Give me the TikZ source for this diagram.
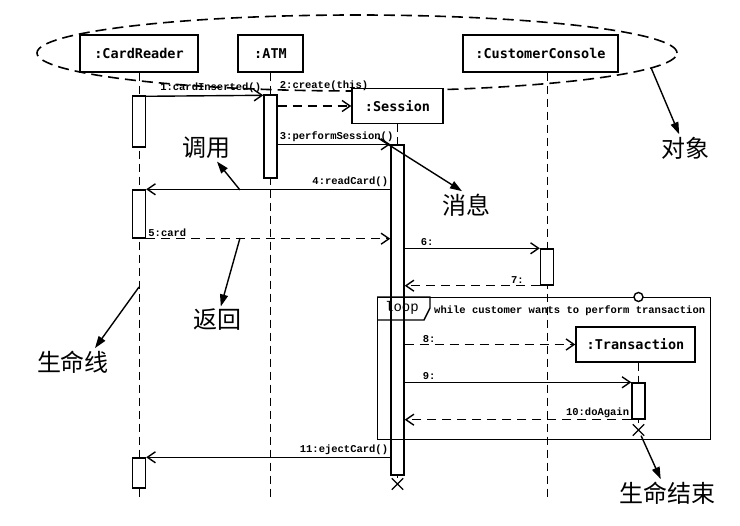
\documentclass[tikz,border=0pt]{standalone}
\usepackage{fontspec}
\setmonofont{DejaVu Sans Mono}
\newfontfamily\msgfont{Liberation Mono}
\newfontfamily\cjkfont{Noto Sans CJK SC}
\usepackage{tikz}
\usetikzlibrary{arrows.meta,positioning,shapes.geometric,shapes.misc,backgrounds,calc}
\tikzset{
  obj/.style={rectangle, draw=black, fill=white, minimum height=37pt, inner sep=0pt,
              font=\ttfamily\bfseries\fontsize{13.5}{15}\selectfont},
  actbar/.style={rectangle, draw=black, fill=white, minimum width=13pt, inner sep=0pt},
  lifeln/.style={dash pattern=on 8pt off 5pt},
  objring/.style={ellipse, draw=black, line width=1.6pt, dash pattern=on 11pt off 6pt,
                  minimum width=640pt, minimum height=76pt, inner sep=0pt},
  call/.style={-{Straight Barb[length=8pt,width=11pt]}},
  ret/.style={call, dash pattern=on 9pt off 6pt},
  lbl/.style={font=\msgfont\bfseries\fontsize{10.5}{12}\selectfont, inner sep=1.5pt},
  note/.style={font=\cjkfont\fontsize{24}{26}\selectfont, inner sep=2pt},
  notearr/.style={-{Triangle[length=12pt,width=8pt]}},
  endx/.style={cross out, draw=black, minimum size=10pt, inner sep=0pt},
}

\begin{document}
\begin{tikzpicture}[x=1pt, y=-1pt, line width=1.4pt]
\useasboundingbox (0,0) rectangle (740,526);

% Objects
\node[obj, minimum width=118pt] (cr) at (139,53.5) {:CardReader};
\node[obj, minimum width=65pt] (atm) at (270.5,53.5) {:ATM};
\node[obj, minimum width=155pt] (cc) at (540.5,53.5) {:CustomerConsole};
\node[obj, minimum width=91pt, minimum height=35pt] (ses) at (397.5,106) {:Session};
\node[obj, minimum width=119pt, minimum height=35pt] (tr) at (635.5,344.5) {:Transaction};

% Activation bars
\node[actbar, minimum height=51pt] (cr1) at (139,121.5) {};
\node[actbar, minimum height=48pt] (cr2) at (139,214) {};
\node[actbar, minimum height=30pt] (cr3) at (139,473) {};
\node[actbar, minimum height=83pt] (atm1) at (270.5,136.5) {};
\node[actbar, minimum height=330pt] (ses1) at (397.5,310) {};
\node[actbar, minimum height=36pt] (cc1) at (547,267) {};
\node[actbar, minimum height=36pt] (tr1) at (638.5,401) {};

% Ends of life
\node[endx] (sesX) at (397.5,484) {};
\node[endx] (trX) at (638.5,430) {};
\coordinate (bottom) at (0,497);

% Object group and lifelines
\begin{scope}[on background layer]
\fill[white] (0,0) rectangle (740,526);
\node[objring] (group) at (357,53) {};
\draw[lifeln] (cr) -- (cr |- bottom);
\draw[lifeln] (atm) -- (atm |- bottom);
\draw[lifeln] (cc1 |- cc.south) -- (cc1 |- bottom);
\draw[lifeln] (ses) -- (sesX);
\draw[lifeln] (tr1 |- tr.south) -- (trX);
\end{scope}

% Loop frame
\node[draw, minimum width=333pt, minimum height=142pt, anchor=north west, inner sep=0pt] (loopfr) at (377,297) {};
\draw (loopfr.north west) -- ++(53,0) -- ++(0,11) -- ++(-6,12) -- ++(-47,0);
\node[font=\msgfont\fontsize{14}{15}\selectfont, inner sep=0pt] (looptag) at ($(loopfr.north west)+(25,11)$) {loop};
\node[lbl, anchor=west] (guard) at ($(loopfr.north west)+(55,14)$) {while customer wants to perform transaction};
\node[circle, draw, fill=white, minimum size=9pt, inner sep=0pt] (gate) at (tr1 |- loopfr.north) {};

% Messages
\draw[call] ([yshift=-1pt]cr1.north east) -- node[lbl, pos=1, above left] {1:cardInserted()} ([yshift=-1pt]atm1.north west);
\draw[ret] (atm1.east |- ses.west) -- node[lbl, pos=0, above right, yshift=13pt] {2:create(this)} (ses.west);
\draw[call] (atm1.east |- ses1.north) -- node[lbl, pos=0, above right] {3:performSession()} (ses1.north west);
\draw[call] (ses1.west |- cr2.north) -- node[lbl, pos=0, above left] {4:readCard()} (cr2.north east);
\draw[ret] (cr2.south east) -- node[lbl, pos=0, above right] {5:card} (ses1.west |- cr2.south);
\draw[call] (ses1.east |- cc1.north) -- node[lbl, pos=0, above right, xshift=14pt] {6:} (cc1.north west);
\draw[ret] (cc1.south west) -- node[lbl, pos=0, above left, xshift=-14pt] {7:} (ses1.east |- cc1.south);
\draw[ret] (ses1.east |- tr.west) -- node[lbl, pos=0, above right, xshift=16pt] {8:} (tr.west);
\draw[call] (ses1.east |- tr1.north) -- node[lbl, pos=0, above right, xshift=16pt] {9:} (tr1.north west);
\draw[ret] (tr1.south west) -- node[lbl, pos=0, above left] {10:doAgain} (ses1.east |- tr1.south);
\draw[call] (ses1.west |- cr3.north) -- node[lbl, pos=0, above left] {11:ejectCard()} (cr3.north east);

% Notes
\node[note] (objnote) at (685,148) {对象};
\node[note] (callnote) at (206,148) {调用};
\node[note] (msgnote) at (466,205) {消息};
\node[note] (retnote) at (217,320) {返回};
\node[note] (lifenote) at (73,362) {生命线};
\node[note] (endnote) at (667,493) {生命结束};
\coordinate (calltail) at (240,190);
\coordinate (msgtail) at (378,138);
\coordinate (rettail) at (240,238);
\coordinate (lifetail) at (139,287);

\draw[notearr] (group.-3.5) -- (objnote);
\draw[notearr] (calltail) -- (callnote);
\draw[notearr] (msgtail) -- ([xshift=-4pt]msgnote.north);
\draw[notearr] (rettail) -- (retnote);
\draw[notearr] (lifetail) -- ([xshift=22pt]lifenote.north);
\draw[notearr] (trX) -- (endnote);

\end{tikzpicture}
\end{document}
